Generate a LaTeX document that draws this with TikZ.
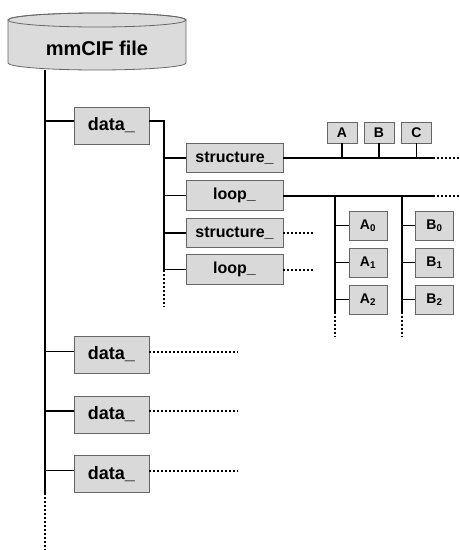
\documentclass[tikz,border=0pt]{standalone}
\usepackage{fontspec}
\setmainfont{Liberation Sans}
\begin{document}
\begin{tikzpicture}[x=1pt,y=-1pt,
  line/.style={line width=1.8pt, black},
  dotline/.style={line width=2pt, black, dash pattern=on 2pt off 2pt},
  box/.style={draw=black!60, fill=black!15, line width=0.8pt, inner sep=0pt, font=\bfseries},
  databox/.style={box, minimum width=75pt, minimum height=37pt, font=\fontsize{18}{20}\selectfont\bfseries},
  lvbox/.style={box, minimum width=97pt, minimum height=29.5pt, font=\fontsize{16}{18}\selectfont\bfseries},
  smallbox/.style={box, minimum width=30pt, minimum height=21pt, font=\fontsize{14}{16}\selectfont\bfseries},
  itembox/.style={box, minimum width=38pt, minimum height=29pt, font=\fontsize{14}{16}\selectfont\bfseries}
]
\useasboundingbox (0,0) rectangle (459,550);
% cylinder
\path[fill=black!14, draw=black!60, line width=0.8pt]
  (8,20) -- (8,63) arc (180:360:89pt and 7pt) -- (186,20) arc (0:180:89pt and 7pt) -- cycle;
\draw[draw=black!60, line width=0.8pt] (97,20) ellipse (89pt and 7pt);
\node[font=\fontsize{20}{22}\selectfont\bfseries] (file) at (97,48) {mmCIF file};
\coordinate (cylbot) at (45,69.5);
\coordinate (mainend) at (45,493);
\coordinate (maindot) at (45,550);
\draw[line] (cylbot) -- (mainend);
\draw[dotline] (mainend) -- (maindot);

% data boxes
\node[databox] (d1) at (111.5,125.5) {data\_};
\node[databox] (d2) at (111.5,354.5) {data\_};
\node[databox] (d3) at (111.5,414.5) {data\_};
\node[databox] (d4) at (111.5,474) {data\_};
\foreach \n/\y in {d1/121,d2/351.5,d3/411,d4/470.5}{
  \coordinate (\n m) at (45,\y);
  \draw[line] (\n m) -- (\n m -| \n.west);
}
\foreach \n/\y in {d2/351.5,d3/411,d4/470.5}{
  \coordinate (\n e) at (238,\y);
  \draw[dotline] (\n e -| \n.east) -- (\n e);
}

% branch of first data_
\coordinate (br) at (164,121);
\coordinate (brend) at (164,270);
\coordinate (brdot) at (164,307);
\draw[line] (br -| d1.east) -- (br) -- (brend);
\draw[dotline] (brend) -- (brdot);

\node[lvbox] (s1) at (234.5,158) {structure\_};
\node[lvbox] (l1) at (234.5,195.5) {loop\_};
\node[lvbox] (s2) at (234.5,233) {structure\_};
\node[lvbox] (l2) at (234.5,269.5) {loop\_};
\foreach \n in {s1,l1,s2,l2}{
  \draw[line] (br |- \n.west) -- (\n.west);
}
\coordinate (s2e) at (313,233);
\coordinate (l2e) at (313,269.5);
\draw[dotline] (s2.east) -- (s2e);
\draw[dotline] (l2.east) -- (l2e);

% structure_ line with A B C
\coordinate (s1end) at (433,158);
\coordinate (s1dot) at (459,158);
\draw[line] (s1.east) -- (s1end);
\draw[dotline] (s1end) -- (s1dot);
\node[smallbox] (A) at (342,132.5) {A};
\node[smallbox] (B) at (379,132.5) {B};
\node[smallbox] (C) at (416.5,132.5) {C};
\foreach \n in {A,B,C}{
  \draw[line] (\n.south) -- (\n.south |- s1.east);
}

% loop_ line
\coordinate (l1end) at (433,196);
\coordinate (l1dot) at (459,196);
\draw[line] (l1.east |- l1end) -- (l1end);
\draw[dotline] (l1end) -- (l1dot);
\coordinate (va) at (335,196);
\coordinate (vaend) at (335,312);
\coordinate (vadot) at (335,337);
\coordinate (vb) at (402,196);
\coordinate (vbend) at (402,312);
\coordinate (vbdot) at (402,337);
\draw[line] (va) -- (vaend);
\draw[dotline] (vaend) -- (vadot);
\draw[line] (vb) -- (vbend);
\draw[dotline] (vbend) -- (vbdot);

\node[itembox] (A0) at (368,225.5) {A\textsubscript{0}};
\node[itembox] (A1) at (368,262.5) {A\textsubscript{1}};
\node[itembox] (A2) at (368,299.5) {A\textsubscript{2}};
\node[itembox] (B0) at (434.5,225.5) {B\textsubscript{0}};
\node[itembox] (B1) at (434.5,262.5) {B\textsubscript{1}};
\node[itembox] (B2) at (434.5,299.5) {B\textsubscript{2}};
\foreach \n in {A0,A1,A2}{
  \draw[line] (va |- \n.west) -- (\n.west);
}
\foreach \n in {B0,B1,B2}{
  \draw[line] (vb |- \n.west) -- (\n.west);
}
\end{tikzpicture}
\end{document}
